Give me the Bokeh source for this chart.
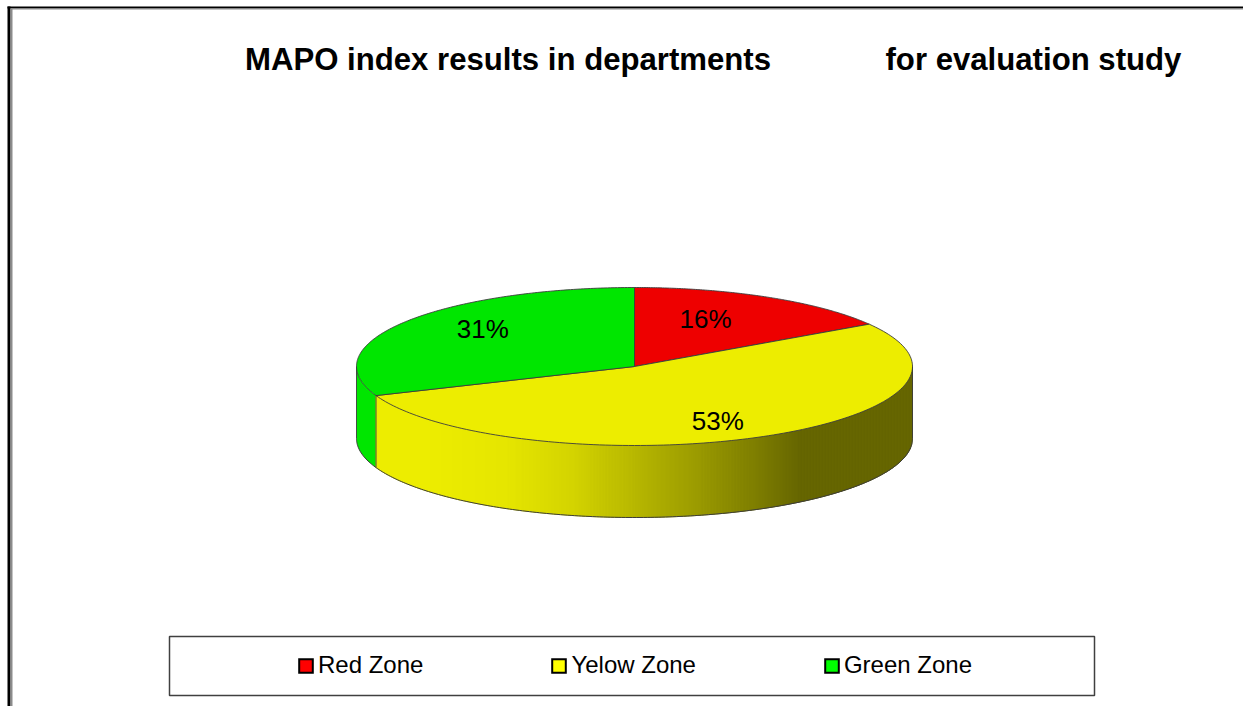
import numpy as np
from bokeh.plotting import figure
from bokeh.models import Range1d, Legend, LegendItem
from bokeh.core.properties import value
from bokeh.embed import file_html
from bokeh.resources import INLINE

title_parts = ["MAPO index results in departments", "for evaluation study"]
zones = ["Red Zone", "Yelow Zone", "Green Zone"]
shares = [16, 53, 31]
pct_labels = ["16%", "53%", "31%"]

top_colors = ["#ee0000", "#eded00", "#00e600"]
legend_colors = ["#ff0000", "#ffff00", "#00ff00"]
FONT = "Liberation Sans"
W, H = 1243, 706
CX, CY, RX, RY, DEPTH = 634, 366, 278, 79, 72
LABEL_FRAC = [(0.53, 0.69), (0.66, 0.77), (0.66, 0.84)]
SHADE_X = [430, 507, 573, 640, 687, 753, 800, 912]
SHADE_V = [237, 230, 212, 181, 160, 128, 102, 102]
OUTLINE = "#3c3c3c"

p = figure(width=W, height=H, x_range=Range1d(0, W), y_range=Range1d(H, 0),
           output_backend="svg", toolbar_location=None, min_border=0,
           outline_line_color=None, x_axis_type=None, y_axis_type=None)
p.grid.visible = False
p.background_fill_color = "white"
p.border_fill_color = "white"

# page frame
p.quad(left=[7, 7, 10, 10], right=[W, 10, 12, W], top=[6, 6, 8, 8], bottom=[8, H, H, 9],
       fill_color=["black", "black", "#8c8c8c", "#8c8c8c"], line_color=None)

def ex(t):
    return CX + RX * np.sin(t)

def ey(t):
    return CY - RY * np.cos(t)

edges = np.radians(np.cumsum([0] + shares) / sum(shares) * 360)

# side wall, green part
green_t = np.linspace(edges[2], 1.5 * np.pi, 30)
p.patch(np.r_[ex(green_t), ex(green_t)[::-1]],
        np.r_[ey(green_t), ey(green_t)[::-1] + DEPTH],
        fill_color=top_colors[2], line_color=None)

# side wall, yellow part: shaded strips
xs = np.arange(ex(edges[2]), CX + RX, 1.5)
xs = np.r_[xs, CX + RX]
strip_x, strip_y, strip_c = [], [], []
for a, b in zip(xs[:-1], xs[1:]):
    ya = CY + RY * np.sqrt(max(0, 1 - ((a - CX) / RX) ** 2))
    yb = CY + RY * np.sqrt(max(0, 1 - ((b - CX) / RX) ** 2))
    strip_x.append([a, b, b, a])
    strip_y.append([ya, yb, yb + DEPTH, ya + DEPTH])
    v = int(np.interp((a + b) / 2, SHADE_X, SHADE_V))
    strip_c.append(f"#{v:02x}{v:02x}00")
p.patches(strip_x, strip_y, fill_color=strip_c, line_color=strip_c, line_width=1)

# top face
for i, col in enumerate(top_colors):
    t = np.linspace(edges[i], edges[i + 1], 160)
    p.patch(np.r_[CX, ex(t)], np.r_[CY, ey(t)], fill_color=col,
            line_color=OUTLINE, line_width=0.9)

# wall outlines
front = np.linspace(0.5 * np.pi, 1.5 * np.pi, 240)
p.line(ex(front), ey(front) + DEPTH, line_color=OUTLINE, line_width=1)
for x_edge, t_edge in [(CX + RX, 0.5 * np.pi), (CX - RX, 1.5 * np.pi), (ex(edges[2]), edges[2])]:
    p.line([x_edge, x_edge], [ey(t_edge), ey(t_edge) + DEPTH], line_color=OUTLINE, line_width=0.9)

# percentage labels
mid = (edges[:-1] + edges[1:]) / 2
lx = [CX + RX * np.sin(m) * f[0] for m, f in zip(mid, LABEL_FRAC)]
ly = [CY - RY * np.cos(m) * f[1] for m, f in zip(mid, LABEL_FRAC)]
p.text(lx, ly, text=pct_labels, text_font=value(FONT), text_font_size="26px",
       text_color="black", text_align="center", text_baseline="middle")

# title
p.text([244.5, 885], [59, 59], text=title_parts, text_font=value(FONT), text_font_size="31.15px",
       text_font_style="bold", text_color="black", text_align="left", text_baseline="middle")

# legend box and legend
p.quad(left=[169], right=[1094], top=[636], bottom=[695], fill_color="white",
       line_color="#404040", line_width=1.5)
items = []
for z, c in zip(zones, legend_colors):
    r = p.quad(left=[-50], right=[-40], top=[-50], bottom=[-40], fill_color=c,
               line_color="black", line_width=2, line_join="miter")
    items.append(LegendItem(label=z, renderers=[r]))
leg = Legend(items=items, orientation="horizontal", location=(297, 27), spacing=127,
             padding=0, margin=0, border_line_color=None, background_fill_alpha=0,
             glyph_width=17, glyph_height=17, label_standoff=4,
             label_text_font=FONT, label_text_font_size="24px", label_text_color="black")
p.add_layout(leg, "center")

open("out.html", "w").write(file_html(p, INLINE))
